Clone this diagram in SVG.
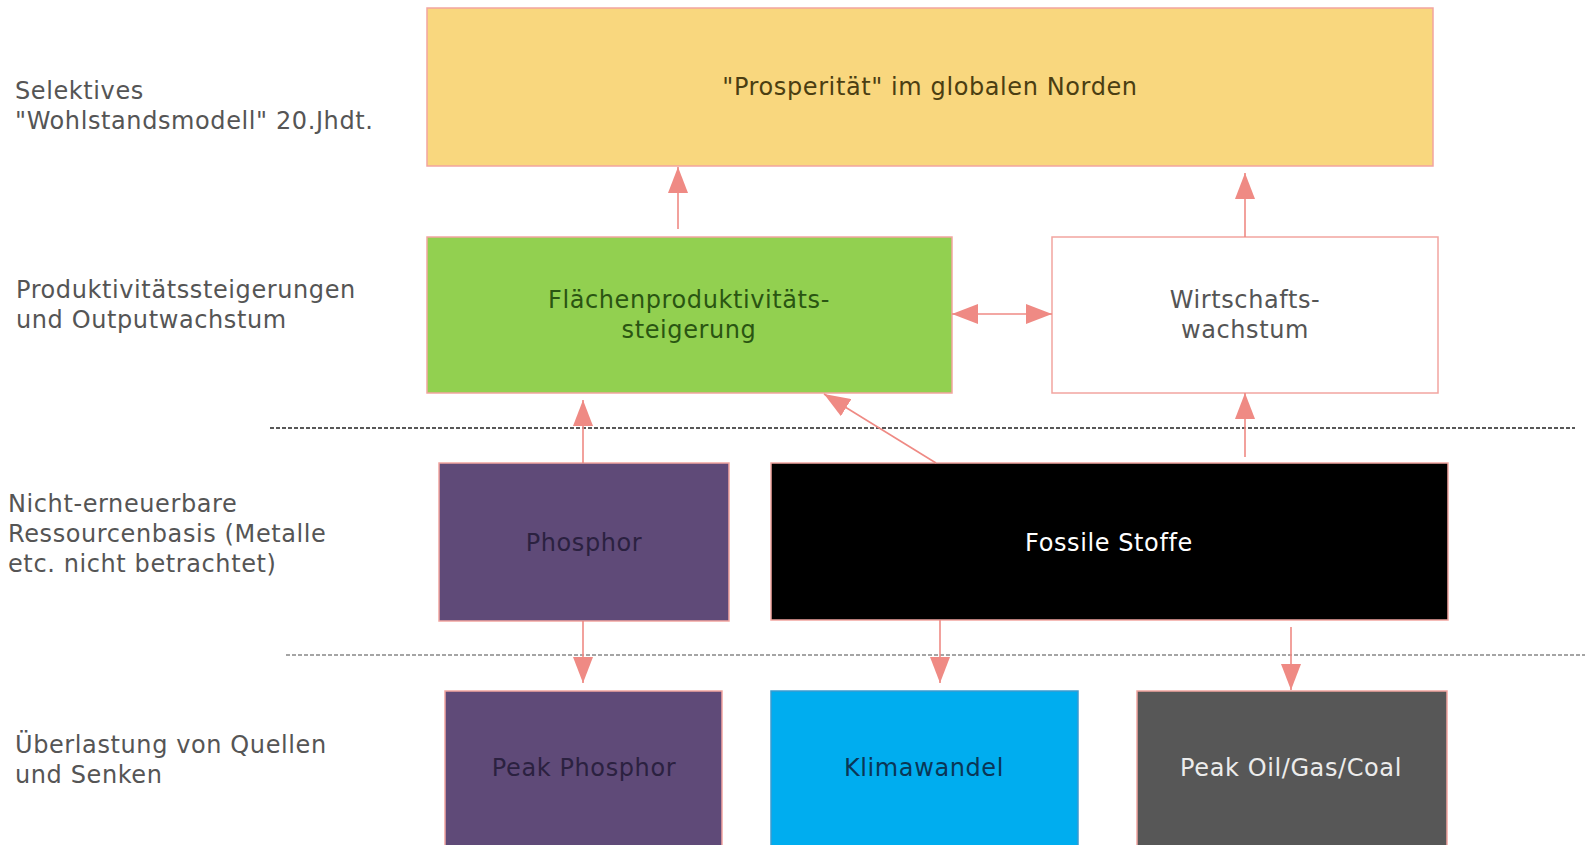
<svg xmlns="http://www.w3.org/2000/svg" width="1585" height="845" viewBox="0 0 1585 845">
<style>
text{font-family:"DejaVu Sans","Noto Sans",sans-serif;font-size:24px;letter-spacing:0.6px}
.lbl{fill:#555555}
.c{text-anchor:middle}
.box{stroke:#f2a5a0;stroke-width:1.5}
.con{stroke:#ef8a84;stroke-width:1.6;fill:none}
.dash{stroke-width:1.5;stroke-dasharray:4 2;fill:none}
</style>
<defs>
<marker id="ah" viewBox="0 0 26 20" refX="26" refY="10" markerWidth="26" markerHeight="20" markerUnits="userSpaceOnUse" orient="auto-start-reverse">
<path d="M0,0 L26,10 L0,20 z" fill="#ef8a84"/>
</marker>
</defs>
<rect width="1585" height="845" fill="#ffffff"/>
<g id="labels">
<text class="lbl" x="15" y="99">Selektives</text>
<text class="lbl" x="15" y="129">"Wohlstandsmodell" 20.Jhdt.</text>
<text class="lbl" x="16" y="298">Produktivitätssteigerungen</text>
<text class="lbl" x="16" y="328">und Outputwachstum</text>
<text class="lbl" x="8" y="512">Nicht-erneuerbare</text>
<text class="lbl" x="8" y="542">Ressourcenbasis (Metalle</text>
<text class="lbl" x="8" y="572">etc. nicht betrachtet)</text>
<text class="lbl" x="15" y="753">Überlastung von Quellen</text>
<text class="lbl" x="15" y="783">und Senken</text>
</g>
<g id="separators">
<line class="dash" x1="270" y1="428" x2="1575" y2="428" stroke="#222"/>
<line class="dash" x1="286" y1="655" x2="1585" y2="655" stroke="#888"/>
</g>
<g id="prosperitaet">
<rect class="box" x="427" y="8" width="1006" height="158" fill="#f9d77e"/>
<text class="c" x="930" y="95" fill="#4b3e12">"Prosperität" im globalen Norden</text>
</g>
<g id="flaechenproduktivitaet">
<rect class="box" x="427" y="237" width="525" height="156" fill="#92d050"/>
<text class="c" x="689" y="308" fill="#2a5512">Flächenproduktivitäts-</text>
<text class="c" x="689" y="338" fill="#2a5512">steigerung</text>
</g>
<g id="wirtschaftswachstum">
<rect class="box" x="1052" y="237" width="386" height="156" fill="#ffffff"/>
<text class="c" x="1245" y="308" fill="#555555">Wirtschafts-</text>
<text class="c" x="1245" y="338" fill="#555555">wachstum</text>
</g>
<g id="phosphor">
<rect class="box" x="439" y="463" width="290" height="158" fill="#5f4a78"/>
<text class="c" x="584" y="551" fill="#2b2140">Phosphor</text>
</g>
<g id="fossile">
<rect class="box" x="771" y="463" width="677" height="157" fill="#000000"/>
<text class="c" x="1109" y="551" fill="#ffffff">Fossile Stoffe</text>
</g>
<g id="peakphosphor">
<rect class="box" x="445" y="691" width="277" height="170" fill="#5f4a78"/>
<text class="c" x="584" y="776" fill="#2b2140">Peak Phosphor</text>
</g>
<g id="klimawandel">
<rect x="771" y="691" width="307" height="170" fill="#00adef" stroke="#3a9ad0" stroke-width="1.5"/>
<text class="c" x="924" y="776" fill="#0a3656">Klimawandel</text>
</g>
<g id="peakoil">
<rect class="box" x="1137" y="691" width="310" height="170" fill="#575757"/>
<text class="c" x="1291" y="776" fill="#ececec">Peak Oil/Gas/Coal</text>
</g>
<g id="connectors">
<line class="con" x1="678" y1="229" x2="678" y2="167" marker-end="url(#ah)"/>
<line class="con" x1="1245" y1="237" x2="1245" y2="173" marker-end="url(#ah)"/>
<line class="con" x1="952" y1="314" x2="1052" y2="314" marker-start="url(#ah)" marker-end="url(#ah)"/>
<line class="con" x1="583" y1="463" x2="583" y2="400" marker-end="url(#ah)"/>
<line class="con" x1="936" y1="463" x2="824" y2="394" marker-end="url(#ah)"/>
<line class="con" x1="1245" y1="457" x2="1245" y2="393" marker-end="url(#ah)"/>
<line class="con" x1="583" y1="621" x2="583" y2="683" marker-end="url(#ah)"/>
<line class="con" x1="940" y1="620" x2="940" y2="683" marker-end="url(#ah)"/>
<line class="con" x1="1291" y1="627" x2="1291" y2="690" marker-end="url(#ah)"/>
</g>
</svg>
